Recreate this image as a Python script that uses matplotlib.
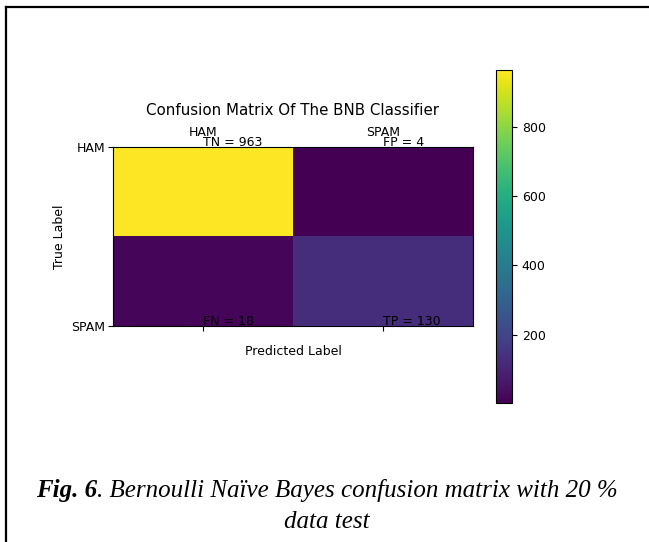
import matplotlib

matplotlib.use("Agg")
import matplotlib.pyplot as plt
import numpy as np
from matplotlib.lines import Line2D

class_labels = ["HAM", "SPAM"]
cell_names = [["TN", "FP"], ["FN", "TP"]]
cm = np.array([[963, 4], [18, 130]])

caption_bold = "Fig. 6"
caption_rest = ". Bernoulli Naïve Bayes confusion matrix with 20 %"
caption_line2 = "data test"

fig = plt.figure(figsize=(6.49, 5.42), dpi=100)
ax = fig.add_axes([0.1741, 0.3985, 0.5547, 0.3303])
cax = fig.add_axes([0.7643, 0.2565, 0.0247, 0.6144])

im = ax.imshow(cm, cmap="viridis", aspect="auto", extent=(-0.5, 1.5, 1.5, -0.5))
ax.set_xticks([0, 1])
ax.set_xticklabels(class_labels, fontsize=9)
ax.set_yticks([-0.5, 1.5])
ax.set_yticklabels(class_labels, fontsize=9)
ax.tick_params(axis="x", labeltop=True, labelbottom=False, top=False, bottom=True, pad=2)
ax.tick_params(axis="y", pad=2)
ax.set_title("Confusion Matrix Of The BNB Classifier", fontsize=10.8, pad=8)
ax.set_xlabel("Predicted Label", fontsize=9, labelpad=10.5)
ax.set_ylabel("True Label", fontsize=9, labelpad=4)

edges = [-0.5, 1.5]
for i in range(2):
    for j in range(2):
        ax.annotate(f"{cell_names[i][j]} = {cm[i][j]}", xy=(j, edges[i]),
                    xytext=(0, 3.5), textcoords="offset points",
                    ha="left", va="center", fontsize=9, annotation_clip=False)

cb = fig.colorbar(im, cax=cax)
cb.set_ticks([200, 400, 600, 800])
cb.ax.tick_params(labelsize=9)

# caption: bold-italic "Fig. 6" followed by italic text, centred as a whole
serif = "Liberation Serif"
fs = 18
fig.canvas.draw()
renderer = fig.canvas.get_renderer()
t1 = fig.text(0, 0, caption_bold, fontsize=fs, family=serif, style="italic", weight="bold")
t2 = fig.text(0, 0, caption_rest, fontsize=fs, family=serif, style="italic")
w1 = t1.get_window_extent(renderer).width
w2 = t2.get_window_extent(renderer).width
W = fig.bbox.width
x0 = (W * 0.504 - (w1 + w2) / 2) / W
y1 = (542 - 497) / 542
t1.set_position((x0, y1))
t2.set_position((x0 + w1 / W, y1))
fig.text(0.504, (542 - 528) / 542, caption_line2, fontsize=fs, family=serif,
         style="italic", ha="center")

# frame lines on the left and top of the figure
fig.add_artist(Line2D([6 / 649, 6 / 649], [0, 1 - 7 / 542], transform=fig.transFigure,
                      color="black", lw=1.6))
fig.add_artist(Line2D([6 / 649, 1], [1 - 7 / 542, 1 - 7 / 542], transform=fig.transFigure,
                      color="black", lw=1.6))

fig.savefig("out.png", dpi=100)
